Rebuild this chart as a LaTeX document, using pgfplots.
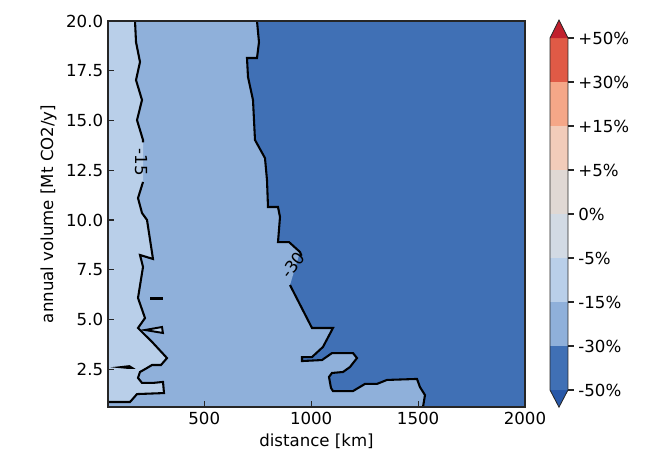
\documentclass[border=0pt]{standalone}
\usepackage{fontspec}
\setmainfont{DejaVu Sans}
\usepackage{pgfplots}
\pgfplotsset{compat=1.18}
\definecolor{cDark}{RGB}{64,112,181}
\definecolor{cMed}{RGB}{143,176,218}
\definecolor{cLight}{RGB}{185,207,233}
\definecolor{cGrey}{RGB}{210,218,228}
\definecolor{cBeige}{RGB}{224,216,212}
\definecolor{cPeach}{RGB}{242,204,186}
\definecolor{cSalmon}{RGB}{245,167,136}
\definecolor{cRed}{RGB}{224,90,70}
\definecolor{cTop}{RGB}{193,32,45}
\definecolor{cBot}{RGB}{40,88,168}
\newcommand{\lblfont}{\fontsize{12}{14}\selectfont}
\begin{document}
\begin{tikzpicture}
\useasboundingbox (0,0) rectangle (6.57in,4.52in);
\begin{axis}[
  at={(1.08in,0.45in)}, anchor=south west,
  width=4.17in, height=3.86in, scale only axis,
  xmin=50, xmax=2000, ymin=0.6, ymax=20,
  xtick={500,1000,1500,2000},
  ytick={2.5,5,7.5,10,12.5,15,17.5,20},
  scaled ticks=false,
  /pgf/number format/assume math mode=true,
  x tick label style={/pgf/number format/1000 sep={}},
  y tick label style={/pgf/number format/.cd, fixed, fixed zerofill, precision=1},
  tick label style={font=\lblfont},
  label style={font=\lblfont},
  xlabel={distance [km]},
  ylabel={annual volume [Mt CO2/y]},
  tick align=inside, xtick pos=left, ytick pos=left,
  major tick length=4pt,
  axis line style={black!85, line width=0.8pt},
  every tick/.style={black!85, line width=0.8pt},
  axis on top,
]
% dark region (background)
\addplot[fill=cDark, draw=none] coordinates {(50,0.6)(2000,0.6)(2000,20)(50,20)} -- cycle;
% medium region
\addplot[fill=cMed, draw=none] coordinates {
(50,20)(746.7,20)(756,18.94)(746.7,18.14)(700,18.14)(704.6,17.19)(728,16.03)(737.4,14.02)
(784.1,13.11)(793.5,12.01)(798.2,10.65)(845,10.65)(854.3,10.15)(845,8.89)(896.4,8.89)
(947.8,8.39)(901,6.73)(1003.9,4.57)(1102,4.57)(1055.3,3.62)(1003.9,3.11)(957.1,3.11)
(957.1,2.91)(1050.7,2.96)(1097.4,3.31)(1195.6,3.31)(1214.3,3.06)(1181.6,2.61)(1148.9,2.36)
(1097.4,2.31)(1083.4,2.11)(1092.7,1.56)(1102,1.40)(1195.6,1.40)(1251.7,1.76)(1307.8,1.76)
(1354.6,1.96)(1494.9,2.01)(1508.9,1.60)(1532.3,1.20)(1523,0.6)(50,0.6)} -- cycle;
% light region
\addplot[fill=cLight, draw=none] coordinates {
(50,20)(176.3,20)(181,18.94)(199.6,17.94)(181,17.03)(209,16.03)(185.6,15.02)(213.7,14.02)
(213.7,11.91)(190.3,11.10)(209,10.35)(232.4,10.0)(260.4,8.04)(199.6,8.24)(213.7,7.64)
(190.3,6.08)(223,5.07)(190.3,4.57)(260.4,3.82)(325.9,3.06)(297.8,2.71)(255.7,2.71)
(232.4,2.56)(199.6,2.36)(190.3,2.06)(209,1.81)(260.4,1.81)(307.2,1.86)(311.9,1.30)
(185.6,1.25)(152.9,0.85)(50,0.85)} -- cycle;
% -15 contour lines
\addplot[black, line width=1.5pt] coordinates {
(176.3,20)(181,18.94)(199.6,17.94)(181,17.03)(209,16.03)(185.6,15.02)(213.7,14.02)(213.7,13.9)};
\addplot[black, line width=1.5pt] coordinates {
(213.7,11.91)(190.3,11.10)(209,10.35)(232.4,10.0)(260.4,8.04)(199.6,8.24)(213.7,7.64)
(190.3,6.08)(223,5.07)(190.3,4.57)(260.4,3.82)(325.9,3.06)(297.8,2.71)(255.7,2.71)
(232.4,2.56)(199.6,2.36)(190.3,2.06)(209,1.81)(260.4,1.81)(307.2,1.86)(311.9,1.30)
(185.6,1.25)(152.9,0.85)(50,0.85)};
% -15 islands
\addplot[fill=cLight, draw=black, line width=1.4pt] coordinates {(223,4.47)(302.5,4.62)(307,4.32)} -- cycle;
\addplot[black, line width=2.2pt] coordinates {(248,6.06)(305,6.06)};
\addplot[fill=cMed, draw=black, line width=1.2pt] coordinates {(100,2.6)(150,2.66)(165,2.56)(140,2.56)} -- cycle;
% -30 contour lines
\addplot[black, line width=1.5pt] coordinates {
(746.7,20)(756,18.94)(746.7,18.14)(700,18.14)(704.6,17.19)(728,16.03)(737.4,14.02)
(784.1,13.11)(793.5,12.01)(798.2,10.65)(845,10.65)(854.3,10.15)(845,8.89)(896.4,8.89)
(947.8,8.39)(955,8.2)};
\addplot[black, line width=1.5pt] coordinates {
(901,6.73)(1003.9,4.57)(1102,4.57)(1055.3,3.62)(1003.9,3.11)(957.1,3.11)
(957.1,2.91)(1050.7,2.96)(1097.4,3.31)(1195.6,3.31)(1214.3,3.06)(1181.6,2.61)(1148.9,2.36)
(1097.4,2.31)(1083.4,2.11)(1092.7,1.56)(1102,1.40)(1195.6,1.40)(1251.7,1.76)(1307.8,1.76)
(1354.6,1.96)(1494.9,2.01)(1508.9,1.60)(1532.3,1.20)(1523,0.6)};
\node[font=\lblfont, rotate=-90, inner sep=0pt] at (axis cs:205,12.9) {-15};
\node[font=\lblfont, rotate=52, inner sep=0pt] at (axis cs:915,7.75) {-30};
\end{axis}
% colorbar
\begin{axis}[
  at={(5.50in,0.62in)}, anchor=south west,
  width=0.18in, height=3.52in, scale only axis,
  xmin=0, xmax=1, ymin=0, ymax=8, clip=false,
  xtick=\empty,
  ytick={0,1,2,3,4,5,6,7,8},
  yticklabels={-50\%,-30\%,-15\%,-5\%,0\%,+5\%,+15\%,+30\%,+50\%},
  ytick pos=right, yticklabel pos=right,
  tick align=outside, major tick length=4pt,
  tick label style={font=\lblfont},
  axis line style={draw=none},
  every tick/.style={black!85, line width=0.8pt},
]
\addplot[fill=cDark, draw=none] coordinates {(0,0)(1,0)(1,1)(0,1)} -- cycle;
\addplot[fill=cMed, draw=none] coordinates {(0,1)(1,1)(1,2)(0,2)} -- cycle;
\addplot[fill=cLight, draw=none] coordinates {(0,2)(1,2)(1,3)(0,3)} -- cycle;
\addplot[fill=cGrey, draw=none] coordinates {(0,3)(1,3)(1,4)(0,4)} -- cycle;
\addplot[fill=cBeige, draw=none] coordinates {(0,4)(1,4)(1,5)(0,5)} -- cycle;
\addplot[fill=cPeach, draw=none] coordinates {(0,5)(1,5)(1,6)(0,6)} -- cycle;
\addplot[fill=cSalmon, draw=none] coordinates {(0,6)(1,6)(1,7)(0,7)} -- cycle;
\addplot[fill=cRed, draw=none] coordinates {(0,7)(1,7)(1,8)(0,8)} -- cycle;
\addplot[fill=cTop, draw=none] coordinates {(0,8)(1,8)(0.5,8.41)} -- cycle;
\addplot[fill=cBot, draw=none] coordinates {(0,0)(1,0)(0.5,-0.39)} -- cycle;
\addplot[black!85, line width=0.6pt] coordinates {(0,0)(0.5,-0.39)(1,0)(1,8)(0.5,8.41)(0,8)} -- cycle;
\end{axis}
\end{tikzpicture}
\end{document}
